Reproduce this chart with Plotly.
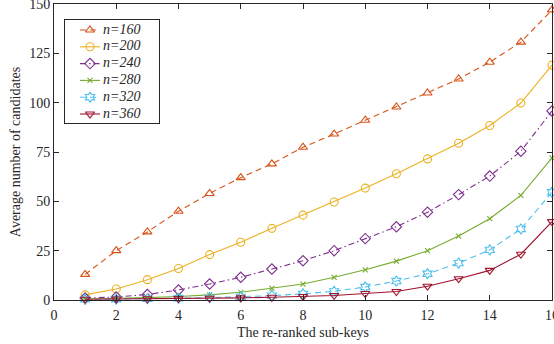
import plotly.graph_objects as go

x_vals = list(range(1, 17))
n160 = [13, 25, 34.5, 45, 54, 62, 69, 77.4, 84.1, 91.1, 97.8, 104.9, 112, 120.5, 130.7, 147]
n200 = [2.6, 5.6, 10.3, 16, 23, 29.3, 36.3, 43, 49.7, 56.7, 64, 71.5, 79.4, 88.4, 99.8, 119]
n240 = [1.0, 1.5, 2.8, 5.1, 8.1, 11.5, 15.7, 19.9, 25, 31.1, 37.1, 44.5, 53.4, 62.8, 75.4, 95.8]
n280 = [0.5, 0.8, 1.2, 1.8, 2.6, 3.9, 5.9, 8.1, 11.5, 15.3, 19.7, 25, 32.4, 41.2, 53, 72]
n320 = [0.3, 0.4, 0.6, 0.9, 1.2, 1.6, 2.2, 3.1, 4.4, 6.6, 9.6, 13.3, 18.7, 25.4, 36, 54.6]
n360 = [0.4, 0.5, 0.6, 0.7, 0.9, 1.1, 1.4, 1.8, 2.3, 3.3, 4.3, 7, 10.8, 15, 23.2, 39.7]
names = ["n=160", "n=200", "n=240", "n=280", "n=320", "n=360"]
x_ticks = [0, 2, 4, 6, 8, 10, 12, 14, 16]
y_ticks = [0, 25, 50, 75, 100, 125, 150]

styles = [
    ("#D95319", "6px,4px", "triangle-up-open", 8),
    ("#EDB120", "solid", "circle-open", 8),
    ("#7E2F8E", "6px,3px,1.5px,3px", "diamond-open", 8),
    ("#77AC30", "solid", "x-thin-open", 5),
    ("#4DBEEE", "6px,4px", "hexagram-open", 8),
    ("#A2142F", "solid", "triangle-down-open", 8),
]
data = [n160, n200, n240, n280, n320, n360]

TXT = "#262626"
FONT = "Liberation Serif"

fig = go.Figure()
for name, ys, (color, dash, sym, sz) in zip(names, data, styles):
    fig.add_trace(go.Scatter(
        x=x_vals, y=ys, name=name, mode="lines+markers", showlegend=False,
        line=dict(color=color, width=1.1, dash=dash),
        marker=dict(symbol=sym, size=sz, color=color, line=dict(color=color, width=1.1)),
        cliponaxis=False,
    ))

# custom legend drawn in an inset axis (so row spacing matches the reference)
for i, (name, (color, dash, sym, sz)) in enumerate(zip(names, styles)):
    fig.add_trace(go.Scatter(
        x=[15, 35], y=[i, i], mode="lines", xaxis="x2", yaxis="y2", showlegend=False,
        line=dict(color=color, width=1.1, dash=dash), hoverinfo="skip",
    ))
    fig.add_trace(go.Scatter(
        x=[25], y=[i], mode="markers", xaxis="x2", yaxis="y2", showlegend=False,
        marker=dict(symbol=sym, size=sz, color=color, line=dict(color=color, width=1.1)),
        hoverinfo="skip",
    ))
    fig.add_trace(go.Scatter(
        x=[38], y=[i], mode="text", xaxis="x2", yaxis="y2", showlegend=False,
        text=[f"<i>{name}</i>"], textposition="middle right",
        textfont=dict(family=FONT, size=14, color=TXT), hoverinfo="skip",
    ))

axis_common = dict(
    showline=True, linecolor=TXT, linewidth=1, mirror="ticks",
    ticks="inside", ticklen=5, tickcolor=TXT,
    showgrid=False, zeroline=False, automargin=False,
    ticklabeloverflow="allow",
    tickfont=dict(family=FONT, size=14, color=TXT),
)

plot_h = 296.0
fig.update_layout(
    width=554, height=344,
    margin=dict(l=54, r=2, t=4, b=44),
    paper_bgcolor="white", plot_bgcolor="white",
    font=dict(family=FONT, size=14, color=TXT),
    xaxis=dict(range=[0, 16], tickvals=x_ticks, ticklabelstandoff=2,
               title=dict(text="The re-ranked sub-keys", standoff=5,
                          font=dict(family=FONT, size=14, color=TXT)),
               **axis_common),
    yaxis=dict(range=[0, 150], tickvals=y_ticks,
               title=dict(text="Average number of candidates", standoff=5,
                          font=dict(family=FONT, size=14, color=TXT)),
               **axis_common),
    xaxis2=dict(domain=[11 / 498, 105 / 498], anchor="y2", range=[0, 94],
                showline=True, mirror=True, linecolor=TXT, linewidth=1,
                showticklabels=False, ticks="", showgrid=False, zeroline=False,
                fixedrange=True),
    yaxis2=dict(domain=[(300 - 123) / plot_h, (300 - 20) / plot_h], anchor="x2",
                range=[5.536, -0.595],
                showline=True, mirror=True, linecolor=TXT, linewidth=1,
                showticklabels=False, ticks="", showgrid=False, zeroline=False,
                fixedrange=True),
    showlegend=False,
)

fig.write_html("out.html", config={"displayModeBar": False},
               post_script="document.body.style.margin='0px';")
